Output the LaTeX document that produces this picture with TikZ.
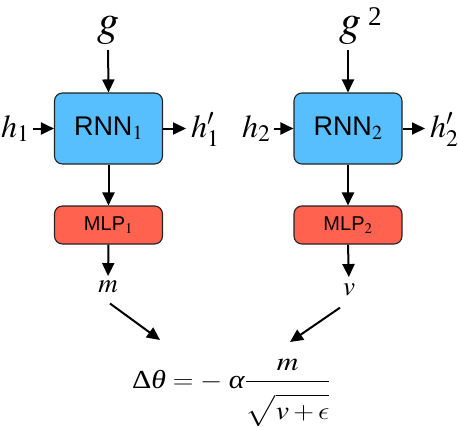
\documentclass[tikz,border=0pt]{standalone}
\usepackage{mathptmx}
\usepackage{graphicx}
\usepackage{fontspec}
\newfontfamily\hsans{Liberation Sans}
\newfontfamily\tms{Liberation Serif}
\DeclareSymbolFont{cmlet}{OML}{cmm}{m}{it}
\DeclareSymbolFont{cmroman}{OT1}{cmr}{m}{n}
\DeclareSymbolFont{cmsyms}{OMS}{cmsy}{m}{n}
\DeclareMathSymbol{\lunateeps}{\mathord}{cmlet}{"0F}
\DeclareMathSymbol{\ceq}{\mathrel}{cmroman}{"3D}
\DeclareMathSymbol{\cplus}{\mathbin}{cmroman}{"2B}
\DeclareMathSymbol{\cminus}{\mathbin}{cmsyms}{"00}
\newcommand\tgreek[1]{\mbox{\tms\itshape #1}}
\usetikzlibrary{arrows.meta}
\definecolor{rnnblue}{HTML}{58BFFE}
\definecolor{mlpred}{HTML}{FF6350}
\definecolor{edgegray}{HTML}{222222}
\tikzset{
  box/.style={draw=edgegray, line width=1.1pt, rounded corners=8pt, minimum width=108pt, inner sep=0pt},
  rnnbox/.style={box, fill=rnnblue, minimum height=71pt, font=\hsans\fontsize{27}{27}\selectfont},
  mlpbox/.style={box, fill=mlpred, minimum height=38pt, font=\hsans\fontsize{20}{20}\selectfont},
  arr/.style={line width=2pt, -{Triangle[length=13pt,width=12pt]}},
  biglab/.style={font=\fontsize{44}{44}\selectfont, inner sep=0pt},
  hlab/.style={font=\fontsize{32}{32}\selectfont, inner sep=0pt, anchor=base west},
  smalllab/.style={font=\fontsize{27}{27}\selectfont, inner sep=0pt, anchor=base},
}
\begin{document}
\begin{tikzpicture}[x=1pt,y=-1pt]
\useasboundingbox (0,0) rectangle (458,426);
% boxes
\node[rnnbox] (r1) at (108.5,128.5) {RNN$_1$};
\node[rnnbox] (r2) at (348,128.5) {RNN$_2$};
\node[mlpbox] (m1) at (108.5,225) {MLP$_1$};
\node[mlpbox] (m2) at (348,225) {MLP$_2$};
% top inputs
\node[biglab, anchor=base] (g1) at (108,35) {$g$};
\node[biglab, anchor=base] (g2) at (350,35) {$g$\rlap{\kern7pt\raisebox{10pt}{\tms\fontsize{27}{27}\selectfont 2}}};
% side labels
\node[hlab] (h1) at (1,137) {$h_1$};
\node[hlab] (h1p) at (191,137) {$h_1'$};
\node[hlab] (h2) at (242,137) {$h_2$};
\node[hlab] (h2p) at (430,137) {$h_2'$};
% outputs
\node[smalllab] (mm) at (108,292) {$m$};
\node[smalllab] (vv) at (349,295) {$v$};
% formula
\node[font=\fontsize{26}{26}\selectfont, inner sep=0pt, anchor=base west] (f) at (132,388)
  {\scalebox{1.15}[1]{$\displaystyle \mbox{\tms Δ}\tgreek{θ} \ceq \cminus\;\tgreek{α}\frac{m}{\rule{0pt}{34pt}\sqrt{\rule[-6pt]{0pt}{26pt}v\cplus\lunateeps}}$}};
\coordinate (ta) at (160,340);
\coordinate (tb) at (290,342);
% connectors
\draw[arr, shorten <=6pt] (g1.south) -- (r1.north);
\draw[arr, shorten <=6pt] (g2.south -| r2.north) -- (r2.north);
\draw[arr, shorten <=3pt] (h1.east |- r1.west) -- (r1.west);
\draw[arr, shorten >=5pt] (r1.east) -- (h1p.west |- r1.east);
\draw[arr, shorten <=3pt] (h2.east |- r2.west) -- (r2.west);
\draw[arr, shorten >=5pt] (r2.east) -- (h2p.west |- r2.east);
\draw[arr] (r1.south) -- (m1.north);
\draw[arr] (r2.south) -- (m2.north);
\draw[arr, shorten >=4pt] (m1.south) -- (mm.north);
\draw[arr, shorten >=6pt] (m2.south) -- (vv.north);
\draw[arr] ([shift={(2,11)}]mm.south) -- (ta);
\draw[arr] ([shift={(-9,12)}]vv.south) -- (tb);
\end{tikzpicture}
\end{document}
